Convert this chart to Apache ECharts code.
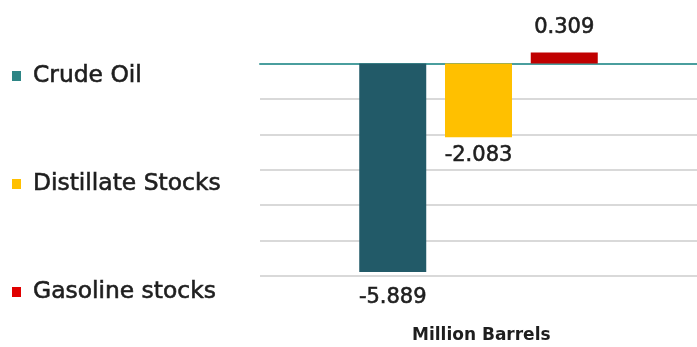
<!DOCTYPE html>
<html>
<head>
<meta charset="utf-8">
<script src="https://cdn.jsdelivr.net/npm/echarts@6/dist/echarts.min.js"></script>
<style>
html,body{margin:0;padding:0;background:#fff;}
#c{width:697px;height:347px;}
</style>
</head>
<body>
<div id="c"></div>
<script>
var categories = [''];
var seriesNames = ['Crude Oil', 'Distillate Stocks', 'Gasoline stocks'];
var crudeOil = [-5.889];
var distillateStocks = [-2.083];
var gasolineStocks = [0.309];
var axisName = 'Million Barrels';
var yMin = -6, yMax = 1, yInterval = 1;

var FONT = 'DejaVu Sans';
var TXT = '#1e1e1e';
var chart = echarts.init(document.getElementById('c'));
function lbl(pos, dist) {
  return {show: true, position: pos, distance: dist, color: TXT, fontSize: 21, fontFamily: FONT,
    textBorderColor: TXT, textBorderWidth: 0.6,
    formatter: function (p) { return p.value.toFixed(3); }};
}
var gridColors = [];
for (var v = yMin; v <= yMax; v += yInterval) gridColors.push(v < 0 ? '#d9d9d9' : 'rgba(0,0,0,0)');

chart.setOption({
  animation: false,
  backgroundColor: '#fff',
  title: {
    text: axisName, left: 412, top: 327, padding: 0,
    textStyle: {fontSize: 17, fontWeight: 'bold', fontFamily: FONT, color: TXT}
  },
  grid: {left: 260, right: 0, top: 28, bottom: 71, containLabel: false, outerBoundsMode: 'none'},
  legend: {
    orient: 'vertical', left: 12, top: 64, padding: 0, itemWidth: 9, itemHeight: 10, itemGap: 84,
    icon: 'rect',
    textStyle: {fontSize: 23.4, fontFamily: FONT, color: TXT, lineHeight: 24, padding: [0, 0, 0, 7],
      textBorderColor: TXT, textBorderWidth: 0.6},
    data: [
      {name: seriesNames[0], itemStyle: {color: '#2d8585'}},
      {name: seriesNames[1], itemStyle: {color: '#ffc000'}},
      {name: seriesNames[2], itemStyle: {color: '#e00000'}}
    ]
  },
  xAxis: {
    type: 'category', data: categories,
    axisLine: {show: true, onZero: true, lineStyle: {color: '#4a9e9e', width: 2}},
    axisTick: {show: false}, axisLabel: {show: false}
  },
  yAxis: {
    type: 'value', min: yMin, max: yMax, interval: yInterval,
    axisLine: {show: false}, axisTick: {show: false}, axisLabel: {show: false},
    splitLine: {show: true, lineStyle: {color: gridColors, width: 2}}
  },
  series: [
    {name: seriesNames[0], type: 'bar', data: crudeOil, barWidth: 67, barGap: '28%',
      itemStyle: {color: '#225a68'}, label: lbl('bottom', 15)},
    {name: seriesNames[1], type: 'bar', data: distillateStocks, barWidth: 67, barGap: '28%',
      itemStyle: {color: '#ffc000'}, label: lbl('bottom', 8)},
    {name: seriesNames[2], type: 'bar', data: gasolineStocks, barWidth: 67, barGap: '28%',
      itemStyle: {color: '#c00000'}, label: lbl('top', 14)}
  ]
});
</script>
</body>
</html>
